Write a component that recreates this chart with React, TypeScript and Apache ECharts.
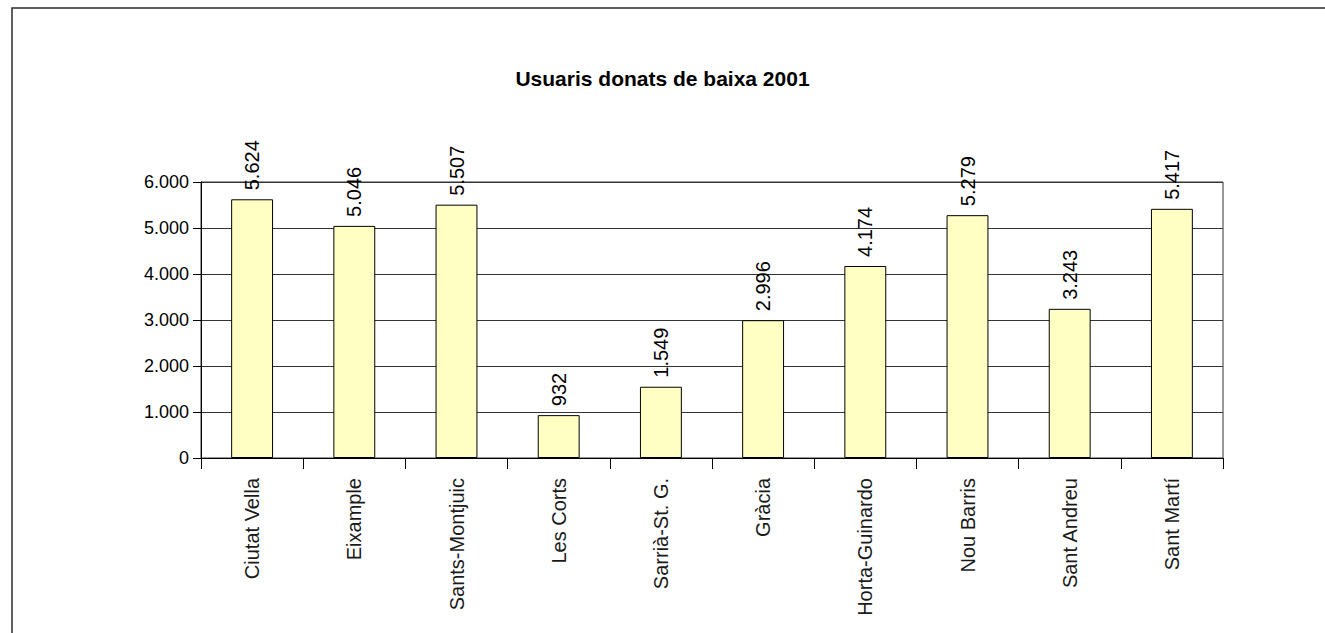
import React, { useEffect, useRef } from "react";
import * as echarts from "echarts";

const categories = [
  "Ciutat Vella",
  "Eixample",
  "Sants-Montjuic",
  "Les Corts",
  "Sarrià-St. G.",
  "Gràcia",
  "Horta-Guinardo",
  "Nou Barris",
  "Sant Andreu",
  "Sant Martí",
];
const values = [5624, 5046, 5507, 932, 1549, 2996, 4174, 5279, 3243, 5417];
const titleText = "Usuaris donats de baixa 2001";

const fmt = (v: number) => {
  const s = String(Math.round(v));
  return s.replace(/\B(?=(\d{3})+(?!\d))/g, ".");
};

const FONT = "Arial, 'Liberation Sans', sans-serif";

export default function App() {
  const ref = useRef<HTMLDivElement>(null);
  useEffect(() => {
    if (!ref.current) return;
    const chart = echarts.init(ref.current, null, { renderer: "svg" });
    chart.setOption({
      animation: false,
      backgroundColor: "#ffffff",
      textStyle: { fontFamily: FONT },
      title: {
        text: titleText,
        left: "center",
        top: 63,
        textStyle: {
          fontFamily: FONT,
          fontWeight: "bold",
          fontSize: 21,
          color: "#000",
        },
      },
      graphic: [
        {
          type: "rect",
          shape: { x: 12, y: 8, width: 1400, height: 700 },
          style: { fill: "none", stroke: "#2a2a2a", lineWidth: 1.5 },
          silent: true,
        },
      ],
      grid: {
        left: 201,
        right: 102,
        top: 182,
        bottom: 175,
        show: true,
        borderColor: "#333",
        borderWidth: 1,
        containLabel: false,
      },
      xAxis: {
        type: "category",
        data: categories,
        axisLine: { show: true, lineStyle: { color: "#000", width: 1 } },
        axisTick: { show: true, alignWithLabel: false, length: 11, lineStyle: { color: "#000" } },
        axisLabel: {
          rotate: 90,
          margin: 20,
          fontSize: 20,
          color: "#1a1a1a",
          fontFamily: FONT,
          interval: 0,
        },
      },
      yAxis: {
        type: "value",
        min: 0,
        max: 6000,
        interval: 1000,
        axisLine: { show: true, lineStyle: { color: "#000", width: 1 } },
        axisTick: { show: true, length: 8, lineStyle: { color: "#000" } },
        axisLabel: {
          formatter: (v: number) => fmt(v),
          fontSize: 18,
          color: "#000",
          margin: 12,
          fontFamily: FONT,
        },
        splitLine: { show: true, lineStyle: { color: "#333", width: 1 } },
      },
      series: [
        {
          type: "bar",
          data: values,
          barWidth: "41%",
          itemStyle: { color: "#FFFFC4", borderColor: "#000", borderWidth: 1 },
          label: {
            show: true,
            position: "top",
            rotate: 90,
            align: "left",
            verticalAlign: "middle",
            distance: 9,
            fontSize: 20,
            color: "#000",
            fontFamily: FONT,
            formatter: (p: any) => fmt(p.value),
          },
        },
      ],
    });
    return () => chart.dispose();
  }, []);
  return (
    <div
      ref={ref}
      style={{ position: "fixed", left: 0, top: 0, width: 1325, height: 633 }}
    />
  );
}
